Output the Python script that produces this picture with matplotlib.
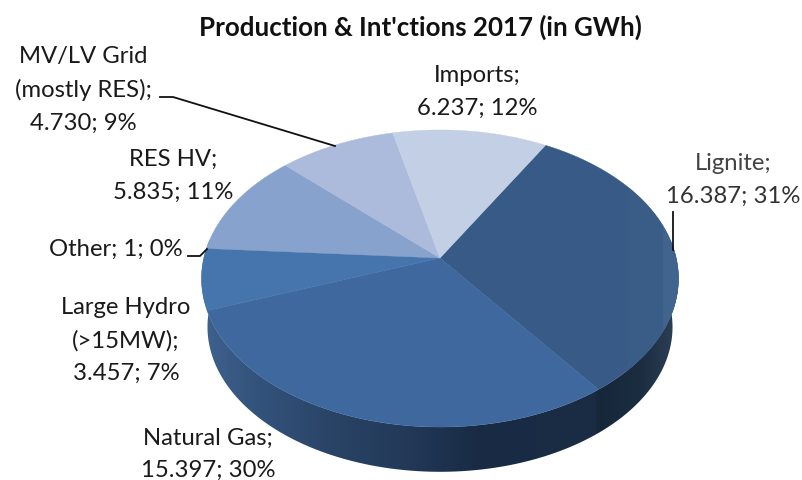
import numpy as np
import matplotlib
matplotlib.use('Agg')
from matplotlib import pyplot as plt
from matplotlib.colors import to_rgb
from matplotlib.patches import Polygon, Rectangle

# Data
names = ['Lignite', 'Natural Gas', 'Large Hydro', 'Other', 'RES HV', 'MV/LV Grid', 'Imports']
values = [16387, 15397, 3457, 1, 5835, 4730, 6237]
top_colors = ['#385a87', '#3f699e', '#4674ac', '#4674ac', '#87a2cd', '#acbbdb', '#c3cfe4']
start_angle = 30.0

# Pie projection: tilted disc with some perspective, in picture pixels
apex = (440.0, 258.0)
A, B, k = 236.2, 145.7, 0.138
depth, shrink = 49.0, 0.975


def project(theta, scale=1.0, dy=0.0):
    t = np.radians(theta)
    x, y = np.sin(t), np.cos(t)
    w = 1 + k * y
    return apex[0] + scale * A * x / w, apex[1] + dy - scale * B * y / w


plt.rcParams['font.family'] = ['Lato', 'DejaVu Sans']
fig = plt.figure(figsize=(8.02, 4.80), dpi=100)
ax = fig.add_axes([0, 0, 1, 1])

shares = np.array(values) / np.sum(values)
edges = start_angle + 360 * np.concatenate([[0], np.cumsum(shares)])

# Side wall: horizontal gradient clipped to the band between the two rims
side_x = [200, 260, 330, 400, 480, 594, 597, 640, 680]
side_c = ['#3f628f', '#33527b', '#2a4467', '#233a59', '#192b44', '#1b2d45', '#16273a', '#1b2d40', '#2e4158']
rgb = np.array([to_rgb(c) for c in side_c])
grad_x = np.arange(195, 686)
grad = np.stack([np.interp(grad_x, side_x, rgb[:, j]) for j in range(3)], axis=-1)[None, :, :]
th = np.linspace(70, 290, 400)
ux, uy = project(th)
lx, ly = project(th, shrink, depth)
band = Polygon(np.c_[np.r_[ux, lx[::-1]], np.r_[uy, ly[::-1]]], closed=True, fc='none', ec='none')
ax.add_patch(band)
im = ax.imshow(grad, extent=(195, 686, 480, 240), aspect='auto', interpolation='bilinear', zorder=1)
im.set_clip_path(band)

# Top of the pie
wedges = []
for i in range(len(values)):
    t = np.linspace(edges[i], edges[i + 1], 120)
    px, py = project(t)
    w = ax.fill(np.r_[apex[0], px], np.r_[apex[1], py], color=top_colors[i], lw=0.3, zorder=2)[0]
    wedges.append(w)

# Lighter vertical bands at the right of the lignite slice
for x0, x1, c in [(628, 663, '#3a5d88'), (663, 690, '#41648e')]:
    r = Rectangle((x0, 120), x1 - x0, 300, fc=c, ec='none', zorder=2.5)
    ax.add_patch(r)
    r.set_clip_path(wedges[0])

# Leader lines
line_col = '#111111'
ax.plot([160, 173, 335], [97, 97, 146], color=line_col, lw=1.3, zorder=3)
ax.plot([188, 200, 207], [256, 256, 249], color=line_col, lw=1.3, zorder=3)
ax.plot([673, 673], [212, 250], color=line_col, lw=1.3, zorder=3)

# Labels
fs = 17.2
txt = '#1a1a1a'
ax.text(420, 27, "Production & Int'ctions 2017 (in GWh)", fontsize=18.6, fontweight='bold',
        color='#111111', ha='center', va='center')
ax.text(83, 56, 'MV/LV Grid', fontsize=fs, color=txt, ha='center', va='center')
ax.text(83, 90, '(mostly RES);', fontsize=fs, color=txt, ha='center', va='center')
ax.text(83, 123, '4.730; 9%', fontsize=fs, color=txt, ha='center', va='center')
ax.text(173, 159, 'RES HV;', fontsize=fs, color=txt, ha='center', va='center')
ax.text(173, 192, '5.835; 11%', fontsize=fs, color=txt, ha='center', va='center')
ax.text(116, 249, 'Other; 1; 0%', fontsize=fs, color=txt, ha='center', va='center')
ax.text(126, 308, 'Large Hydro', fontsize=fs, color=txt, ha='center', va='center')
ax.text(126, 341, '(>15MW);', fontsize=fs, color=txt, ha='center', va='center')
ax.text(126, 373, '3.457; 7%', fontsize=fs, color=txt, ha='center', va='center')
ax.text(208, 438, 'Natural Gas;', fontsize=fs, color=txt, ha='center', va='center')
ax.text(208, 470, '15.397; 30%', fontsize=fs, color=txt, ha='center', va='center')
ax.text(477, 76, 'Imports;', fontsize=fs, color=txt, ha='center', va='center')
ax.text(477, 108, '6.237; 12%', fontsize=fs, color=txt, ha='center', va='center')
ax.text(733, 164, 'Lignite;', fontsize=fs, color='#444444', ha='center', va='center')
ax.text(733, 196, '16.387; 31%', fontsize=fs, color='#333333', ha='center', va='center')

ax.set_xlim(0, 802)
ax.set_ylim(480, 0)
ax.axis('off')
fig.savefig('out.png', dpi=100)
plt.close()
